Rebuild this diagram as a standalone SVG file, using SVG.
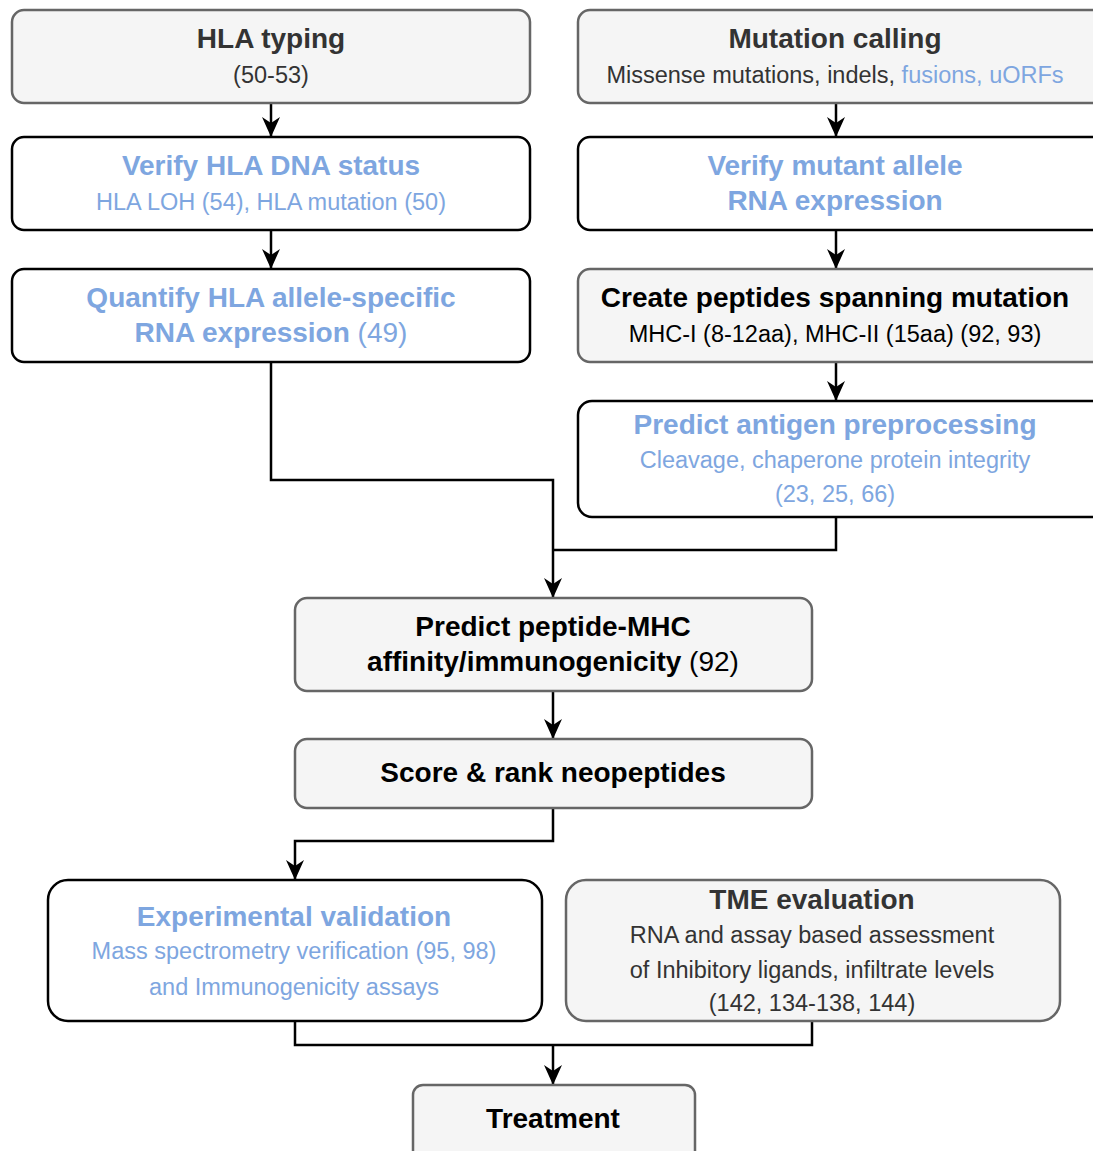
<svg xmlns="http://www.w3.org/2000/svg" width="1093" height="1151" viewBox="0 0 1093 1151">
<style>
.g{fill:#f5f5f5;stroke:#666;stroke-width:2.5}
.w{fill:#fff;stroke:#000;stroke-width:2.5}
text{font-family:"Liberation Sans",Arial,sans-serif;text-anchor:middle}
.t{font-size:28px;font-weight:bold}
.s{font-size:23.5px}
.b{fill:#7EA6E0}
.d{fill:#333}
.k{fill:#000}
.c{fill:none;stroke:#000;stroke-width:2.5}
</style>
<defs>
<marker id="ar" viewBox="0 0 20 18" refX="19" refY="9" markerWidth="20" markerHeight="18" markerUnits="userSpaceOnUse" orient="auto">
<path d="M0,0 L20,9 L0,18 L6,9 Z" fill="#000"/>
</marker>
</defs>
<rect width="1093" height="1151" fill="#fff"/>
<g id="connectors">
<path class="c" d="M271,103 V136" marker-end="url(#ar)"/>
<path class="c" d="M836,103 V136" marker-end="url(#ar)"/>
<path class="c" d="M271,230 V268" marker-end="url(#ar)"/>
<path class="c" d="M836,230 V268" marker-end="url(#ar)"/>
<path class="c" d="M836,362 V400" marker-end="url(#ar)"/>
<path class="c" d="M271,362 V480 H553 V597" marker-end="url(#ar)"/>
<path class="c" d="M836,517 V550 H553"/>
<path class="c" d="M553,691 V738" marker-end="url(#ar)"/>
<path class="c" d="M553,808 V841 H295 V879" marker-end="url(#ar)"/>
<path class="c" d="M295,1021 V1045 H812 V1021"/>
<path class="c" d="M553,1045 V1084" marker-end="url(#ar)"/>
</g>
<g id="hla-typing">
<rect class="g" x="12" y="10" width="518" height="93" rx="12"/>
<text class="t d" x="271" y="48">HLA typing</text>
<text class="s d" x="271" y="83">(50-53)</text>
</g>
<g id="mutation-calling">
<rect class="g" x="578" y="10" width="530" height="93" rx="12"/>
<text class="t d" x="835" y="48">Mutation calling</text>
<text class="s d" x="835" y="83">Missense mutations, indels, <tspan class="b">fusions, uORFs</tspan></text>
</g>
<g id="verify-hla">
<rect class="w" x="12" y="137" width="518" height="93" rx="12"/>
<text class="t b" x="271" y="175">Verify HLA DNA status</text>
<text class="s b" x="271" y="210">HLA LOH (54), HLA mutation (50)</text>
</g>
<g id="verify-mutant">
<rect class="w" x="578" y="137" width="530" height="93" rx="12"/>
<text class="t b" x="835" y="175">Verify mutant allele</text>
<text class="t b" x="835" y="210">RNA expression</text>
</g>
<g id="quantify-hla">
<rect class="w" x="12" y="269" width="518" height="93" rx="12"/>
<text class="t b" x="271" y="307">Quantify HLA allele-specific</text>
<text class="t b" x="271" y="342">RNA expression <tspan style="font-weight:normal">(49)</tspan></text>
</g>
<g id="create-peptides">
<rect class="g" x="578" y="269" width="530" height="93" rx="12"/>
<text class="t k" x="835" y="307">Create peptides spanning mutation</text>
<text class="s k" x="835" y="342">MHC-I (8-12aa), MHC-II (15aa) (92, 93)</text>
</g>
<g id="predict-antigen">
<rect class="w" x="578" y="401" width="530" height="116" rx="14"/>
<text class="t b" x="835" y="434">Predict antigen preprocessing</text>
<text class="s b" x="835" y="468">Cleavage, chaperone protein integrity</text>
<text class="s b" x="835" y="502">(23, 25, 66)</text>
</g>
<g id="predict-mhc">
<rect class="g" x="295" y="598" width="517" height="93" rx="12"/>
<text class="t k" x="553" y="636">Predict peptide-MHC</text>
<text class="t k" x="553" y="671">affinity/immunogenicity <tspan style="font-weight:normal">(92)</tspan></text>
</g>
<g id="score-rank">
<rect class="g" x="295" y="739" width="517" height="69" rx="12"/>
<text class="t k" x="553" y="782">Score &amp; rank neopeptides</text>
</g>
<g id="experimental-validation">
<rect class="w" x="48" y="880" width="494" height="141" rx="20"/>
<text class="t b" x="294" y="926">Experimental validation</text>
<text class="s b" x="294" y="959">Mass spectrometry verification (95, 98)</text>
<text class="s b" x="294" y="995">and Immunogenicity assays</text>
</g>
<g id="tme-evaluation">
<rect class="g" x="566" y="880" width="494" height="141" rx="20"/>
<text class="t d" x="812" y="909">TME evaluation</text>
<text class="s d" x="812" y="943">RNA and assay based assessment</text>
<text class="s d" x="812" y="978">of Inhibitory ligands, infiltrate levels</text>
<text class="s d" x="812" y="1011">(142, 134-138, 144)</text>
</g>
<g id="treatment">
<rect class="g" x="413" y="1085" width="282" height="90" rx="10"/>
<text class="t k" x="553" y="1128">Treatment</text>
</g>
</svg>
